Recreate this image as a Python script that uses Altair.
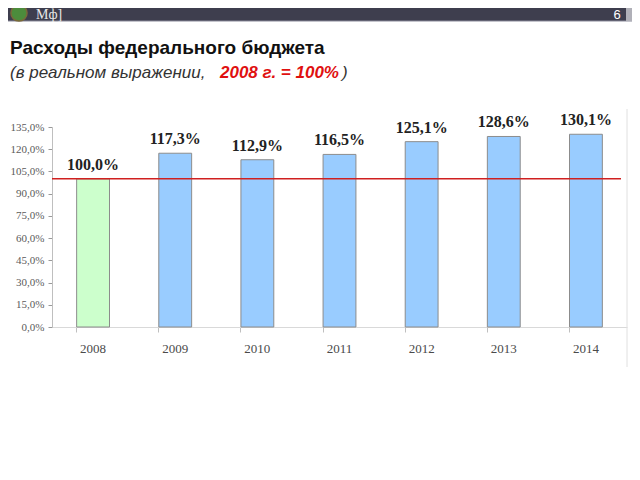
import altair as alt
import pandas as pd

years = ["2008", "2009", "2010", "2011", "2012", "2013", "2014"]
values = [100.0, 117.3, 112.9, 116.5, 125.1, 128.6, 130.1]
bar_colors = ["#ccffcc", "#99ccff", "#99ccff", "#99ccff", "#99ccff", "#99ccff", "#99ccff"]
y_ticks = [0, 15, 30, 45, 60, 75, 90, 105, 120, 135]
base_value = 100.0

labels = [f"{v:.1f}%".replace(".", ",") for v in values]
df = pd.DataFrame({"year": years, "value": values, "color": bar_colors, "label": labels})
one = pd.DataFrame({"a": [0]})

W, H = 575, 200
PL, PT = 44, 119

y_scale = alt.Scale(domain=[0, 135], nice=False)
x_axis = alt.Axis(labelAngle=0, labelFont="Liberation Serif", labelFontSize=13,
                  labelColor="#4a4a4a", labelPadding=10, tickSize=5, bandPosition=0,
                  tickColor="#bfbfbf", domainColor="#d9d9d9")
y_axis = alt.Axis(values=y_ticks, grid=False, labelFont="Liberation Serif",
                  labelFontSize=11, labelColor="#5a5a5a", tickSize=4,
                  labelOverlap=False, labelBound=False, labelFlush=False,
                  tickColor="#999999", domainColor="#bfbfbf", labelPadding=4,
                  labelExpr="replace(format(datum.value, '.1f'), '.', ',') + '%'")

x_enc = alt.X("year:N", sort=years, title=None,
              scale=alt.Scale(paddingInner=0.6, paddingOuter=0.3), axis=x_axis)
y_enc = alt.Y("value:Q", title=None, scale=y_scale, axis=y_axis)

bars = alt.Chart(df).mark_bar(stroke="#8c8c8c", strokeWidth=1).encode(
    x=x_enc, y=y_enc, fill=alt.Fill("color:N", scale=None))

bar_text = alt.Chart(df).mark_text(font="Liberation Serif", fontSize=16, fontWeight="bold",
                                   color="#222222", baseline="bottom", dy=-6).encode(
    x=x_enc, y=y_enc, text="label:N")

ref = alt.Chart(pd.DataFrame({"value": [base_value]})).mark_rule(color="#d02020", strokeWidth=1.5).encode(
    y=y_enc, x=alt.value(0), x2=alt.value(W - 6))

right_edge = alt.Chart(one).mark_rule(color="#e0e0e0").encode(
    x=alt.value(W), y=alt.value(-18), y2=alt.value(H + 40))

header = alt.Chart(one).mark_rect(color="#3e3e4e").encode(
    x=alt.value(-PL), x2=alt.value(W + 5), y=alt.value(-PT), y2=alt.value(-PT + 13))
header_line = alt.Chart(one).mark_rule(color="#8a8a9a").encode(
    x=alt.value(-PL), x2=alt.value(W + 5), y=alt.value(-PT + 13))
header_edge = alt.Chart(one).mark_rect(color="#b0b0b8").encode(
    x=alt.value(W - 1), x2=alt.value(W + 5), y=alt.value(-PT), y2=alt.value(-PT + 13))

logo = alt.Chart(one).mark_point(shape="circle", filled=True, color="#4c8c3c", size=260,
                                 stroke="#7a6a3a", strokeWidth=1.5, opacity=1).encode(
    x=alt.value(-33), y=alt.value(-PT + 5))

logo_text = alt.Chart(one).mark_text(text="Мф]", font="Liberation Serif", fontSize=14,
                                     color="#e8e8e8", align="left", baseline="alphabetic").encode(
    x=alt.value(-16), y=alt.value(-PT + 11))

page_num = alt.Chart(one).mark_text(text="6", font="Liberation Sans", fontSize=13,
                                    color="#ffffff", align="center", baseline="alphabetic").encode(
    x=alt.value(565), y=alt.value(-PT + 11))

title = alt.Chart(one).mark_text(text="Расходы федерального бюджета", font="Liberation Sans",
                                 fontSize=19, fontWeight="bold", color="#111111",
                                 align="left", baseline="alphabetic").encode(
    x=alt.value(-42), y=alt.value(-73))

sub_style = dict(font="Liberation Sans", fontSize=17, fontStyle="italic",
                 align="left", baseline="alphabetic")
sub1 = alt.Chart(one).mark_text(text="(в реальном выражении,", color="#333333", **sub_style).encode(
    x=alt.value(-42), y=alt.value(-49))
sub2 = alt.Chart(one).mark_text(text="2008 г. = 100%", fontWeight="bold", color="#e01010",
                                **sub_style).encode(
    x=alt.value(168), y=alt.value(-49))
sub3 = alt.Chart(one).mark_text(text=")", color="#333333", **sub_style).encode(
    x=alt.value(290), y=alt.value(-49))

chart = alt.layer(
    header, header_line, header_edge, logo, logo_text, page_num,
    title, sub1, sub2, sub3,
    bars, right_edge, ref, bar_text,
).properties(
    width=W, height=H,
    padding={"left": PL, "top": PT, "right": 5, "bottom": 125},
    autosize=alt.AutoSizeParams(type="none"),
    background="white",
).configure_view(stroke=None)

chart.save("out.html", embed_options={"renderer": "svg", "actions": False})
